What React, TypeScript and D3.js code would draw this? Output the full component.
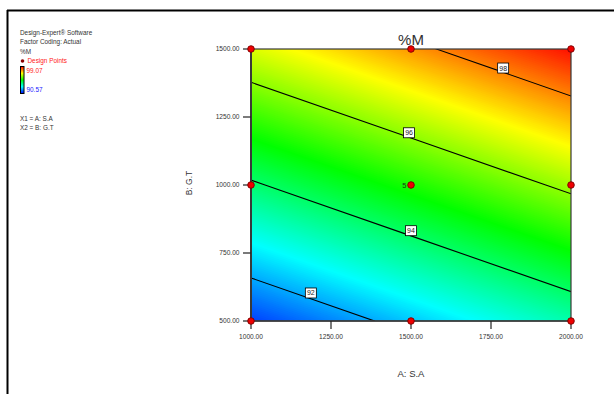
import * as d3 from "d3";
import { useEffect, useRef } from "react";

// design grid (A: S.A across, B: G.T up) and the response read at each point
const factorA = [1000, 1500, 2000];
const factorB = [500, 1000, 1500];
// rows follow factorB, columns follow factorA
const responseM = [
    91.12, 92.26, 93.4,
    93.9, 95.04, 96.18,
    96.68, 97.82, 98.96,
];

const contourLevels = [92, 94, 96, 98];
const labelA = [1187, 1500, 1494, 1788];
const labelB = [603, 832, 1192, 1430];

const xTicks = [1000, 1250, 1500, 1750, 2000];
const yTicks = [500, 750, 1000, 1250, 1500];

const legendMin = 90.57;
const legendMax = 99.07;
const centerReplicates = 5;

const legendLines = ["Design-Expert® Software", "Factor Coding: Actual", "%M"];
const factorLines = ["X1 = A: S.A", "X2 = B: G.T"];

const W = 614;
const H = 394;

function drawChart(svgElement: SVGSVGElement) {
    const svg = d3.select(svgElement);
    svg.selectAll("*").remove();

    const plot = { left: 251, right: 571, top: 49, bottom: 321 };
    const font = "'Liberation Sans', Arial, sans-serif";

    const x = d3.scaleLinear().domain([1000, 2000]).range([plot.left, plot.right]);
    const y = d3.scaleLinear().domain([500, 1500]).range([plot.bottom, plot.top]);

    const color = d3
        .scaleLinear<string>()
        .domain(d3.range(5).map((i) => legendMin + ((legendMax - legendMin) * i) / 4))
        .range(["#0000ff", "#00ffff", "#00ff00", "#ffff00", "#ff0000"])
        .clamp(true);

    // outer frame (top and left edges only)
    svg.append("line")
        .attr("x1", 7).attr("x2", W).attr("y1", 10.5).attr("y2", 10.5)
        .attr("stroke", "#000").attr("stroke-width", 2);
    svg.append("line")
        .attr("x1", 7.5).attr("x2", 7.5).attr("y1", 10).attr("y2", H)
        .attr("stroke", "#000").attr("stroke-width", 2);

    const defs = svg.append("defs");
    defs.append("clipPath")
        .attr("id", "plot-clip")
        .append("rect")
        .attr("x", plot.left).attr("y", plot.top)
        .attr("width", plot.right - plot.left)
        .attr("height", plot.bottom - plot.top);

    const nx = factorA.length;
    const ny = factorB.length;
    const stepA = factorA[1] - factorA[0];
    const stepB = factorB[1] - factorB[0];

    const projection = d3.geoTransform({
        point(gx: number, gy: number) {
            this.stream.point(
                x(factorA[0] + (gx - 0.5) * stepA),
                y(factorB[0] + (gy - 0.5) * stepB)
            );
        },
    });
    const path = d3.geoPath(projection);

    // filled surface as fine nested bands
    const bandLevels = d3.range(90.5, 99.1, 0.04);
    const bands = d3.contours().size([nx, ny]).smooth(true).thresholds(bandLevels)(responseM);

    const surface = svg.append("g").attr("clip-path", "url(#plot-clip)");
    surface.selectAll("path.band")
        .data(bands)
        .join("path")
        .attr("class", "band")
        .attr("d", (d) => path(d as any))
        .attr("fill", (d) => color(d.value))
        .attr("stroke", "none");

    // contour lines
    const lines = d3.contours().size([nx, ny]).smooth(true).thresholds(contourLevels)(responseM);
    surface.selectAll("path.iso")
        .data(lines)
        .join("path")
        .attr("class", "iso")
        .attr("d", (d) => path(d as any))
        .attr("fill", "none")
        .attr("stroke", "#000")
        .attr("stroke-width", 1.1);

    // plot border
    svg.append("rect")
        .attr("x", plot.left).attr("y", plot.top)
        .attr("width", plot.right - plot.left)
        .attr("height", plot.bottom - plot.top)
        .attr("fill", "none")
        .attr("stroke", "#3a3a3a")
        .attr("stroke-width", 1.2);
    svg.append("line")
        .attr("x1", plot.left).attr("x2", plot.left)
        .attr("y1", plot.top).attr("y2", plot.bottom)
        .attr("stroke", "#3a3a3a").attr("stroke-width", 2);
    svg.append("line")
        .attr("x1", plot.left).attr("x2", plot.right)
        .attr("y1", plot.bottom).attr("y2", plot.bottom)
        .attr("stroke", "#3a3a3a").attr("stroke-width", 1.6);

    // ticks
    const xt = svg.append("g");
    xt.selectAll("line")
        .data(xTicks)
        .join("line")
        .attr("x1", (d) => x(d)).attr("x2", (d) => x(d))
        .attr("y1", plot.bottom).attr("y2", plot.bottom + 8)
        .attr("stroke", "#222").attr("stroke-width", 1.2);
    xt.selectAll("text")
        .data(xTicks)
        .join("text")
        .attr("x", (d) => x(d))
        .attr("y", plot.bottom + 17.5)
        .attr("text-anchor", "middle")
        .style("font-family", font)
        .style("font-size", "6.6px")
        .style("fill", "#333")
        .text((d) => d.toFixed(2));

    const yt = svg.append("g");
    yt.selectAll("line")
        .data(yTicks)
        .join("line")
        .attr("x1", plot.left - 8).attr("x2", plot.left)
        .attr("y1", (d) => y(d)).attr("y2", (d) => y(d))
        .attr("stroke", "#222").attr("stroke-width", 1.2);
    yt.selectAll("text")
        .data(yTicks)
        .join("text")
        .attr("x", plot.left - 11.5)
        .attr("y", (d) => y(d) + 2.4)
        .attr("text-anchor", "end")
        .style("font-family", font)
        .style("font-size", "6.6px")
        .style("fill", "#333")
        .text((d) => d.toFixed(2));

    // axis titles
    svg.append("text")
        .attr("x", x(1500))
        .attr("y", 377)
        .attr("text-anchor", "middle")
        .style("font-family", font)
        .style("font-size", "9.5px")
        .style("fill", "#333")
        .text("A: S.A");
    svg.append("text")
        .attr("transform", `translate(192, ${y(1000) - 2}) rotate(-90)`)
        .attr("text-anchor", "middle")
        .style("font-family", font)
        .style("font-size", "8.5px")
        .style("fill", "#333")
        .text("B: G.T");

    svg.append("text")
        .attr("x", x(1500))
        .attr("y", 45)
        .attr("text-anchor", "middle")
        .style("font-family", font)
        .style("font-size", "15px")
        .style("fill", "#333")
        .text("%M");

    // contour labels
    const labels = svg.append("g")
        .selectAll("g")
        .data(contourLevels)
        .join("g")
        .attr("transform", (d, i) => `translate(${x(labelA[i])}, ${y(labelB[i])})`);
    labels.append("rect")
        .attr("x", -5.5).attr("y", -5)
        .attr("width", 11).attr("height", 10)
        .attr("fill", "#fff")
        .attr("stroke", "#000")
        .attr("stroke-width", 0.8);
    labels.append("text")
        .attr("y", 2.5)
        .attr("text-anchor", "middle")
        .style("font-family", font)
        .style("font-size", "7px")
        .style("fill", "#222")
        .text((d) => d);

    // design points
    const points = factorB.flatMap((b) => factorA.map((a) => ({ a, b })));
    svg.append("g")
        .selectAll("circle")
        .data(points)
        .join("circle")
        .attr("cx", (d) => x(d.a))
        .attr("cy", (d) => y(d.b))
        .attr("r", 3.3)
        .attr("fill", "#ee0000")
        .attr("stroke", "#7a0000")
        .attr("stroke-width", 0.9);

    svg.append("text")
        .attr("x", x(factorA[1]) - 4.5)
        .attr("y", y(factorB[1]) + 2.6)
        .attr("text-anchor", "end")
        .style("font-family", font)
        .style("font-size", "7.5px")
        .style("fill", "#1a3a1a")
        .text(centerReplicates);

    // legend block
    const legend = svg.append("g");
    legend.selectAll("text.head")
        .data(legendLines)
        .join("text")
        .attr("class", "head")
        .attr("x", 20)
        .attr("y", (d, i) => 34.5 + i * 9.5)
        .style("font-family", font)
        .style("font-size", "6.4px")
        .style("fill", "#333")
        .text((d) => d);

    legend.append("circle")
        .attr("cx", 22.5).attr("cy", 61).attr("r", 1.8)
        .attr("fill", "#8b0000");
    legend.append("text")
        .attr("x", 27.5).attr("y", 63.3)
        .style("font-family", font)
        .style("font-size", "6.4px")
        .style("fill", "#ff2020")
        .text("Design Points");

    const grad = defs.append("linearGradient")
        .attr("id", "legend-grad")
        .attr("x1", 0).attr("x2", 0).attr("y1", 1).attr("y2", 0);
    color.domain().forEach((v, i) => {
        grad.append("stop")
            .attr("offset", `${(i / 4) * 100}%`)
            .attr("stop-color", color(v));
    });
    legend.append("rect")
        .attr("x", 20.5).attr("y", 66.5)
        .attr("width", 3.5).attr("height", 27)
        .attr("fill", "url(#legend-grad)")
        .attr("stroke", "#000")
        .attr("stroke-width", 1);
    legend.append("text")
        .attr("x", 26.5).attr("y", 73)
        .style("font-family", font)
        .style("font-size", "6.4px")
        .style("fill", "#ff2020")
        .text(legendMax.toFixed(2));
    legend.append("text")
        .attr("x", 26.5).attr("y", 92)
        .style("font-family", font)
        .style("font-size", "6.4px")
        .style("fill", "#2020ff")
        .text(legendMin.toFixed(2));

    legend.selectAll("text.factor")
        .data(factorLines)
        .join("text")
        .attr("class", "factor")
        .attr("x", 20)
        .attr("y", (d, i) => 120.5 + i * 9.3)
        .style("font-family", font)
        .style("font-size", "6.4px")
        .style("fill", "#333")
        .text((d) => d);
}

export default function App() {
    const chartRef = useRef<SVGSVGElement | null>(null);

    useEffect(() => {
        if (chartRef.current) drawChart(chartRef.current);
    }, []);

    return (
        <div style={{ position: "fixed", left: 0, top: 0, width: W, height: H, background: "#fff" }}>
            <svg ref={chartRef} width={W} height={H} style={{ display: "block" }}></svg>
        </div>
    );
}
